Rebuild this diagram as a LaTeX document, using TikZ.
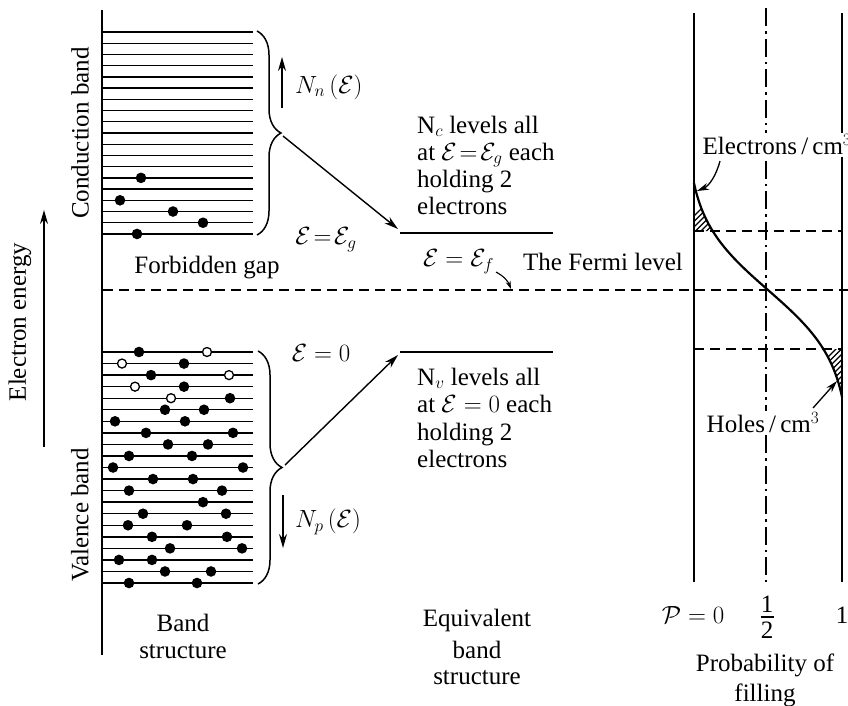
\documentclass[tikz,border=0pt]{standalone}
\usepackage{fontspec}
\setmainfont{Liberation Serif}
\usetikzlibrary{arrows.meta,decorations.pathreplacing}
\begin{document}
\begin{tikzpicture}[x=1pt,y=-1pt,
  txt/.style={font=\fontsize{25}{28}\selectfont, inner sep=0pt},
  ltxt/.style={txt, anchor=base west, text height=17pt, text depth=6pt},
  stxt/.style={font=\fontsize{25}{28}\selectfont, inner sep=1.5pt, fill=white},
  lvl/.style={line width=1.4pt},
  ax/.style={line width=1.7pt},
  hdot/.style={fill=white, draw=black, line width=1.3pt},
  arr/.style={line width=1.4pt, -{Stealth[length=14pt,width=8pt]}},
  dsh/.style={line width=1.4pt, dash pattern=on 10pt off 6pt},
  dashdot/.style={line width=1.5pt, dash pattern=on 18pt off 5pt on 2.5pt off 5pt},
  brc/.style={decorate, decoration={brace, amplitude=24pt}, line width=1.5pt},
  hatch/.style={line width=1.2pt},
]
\fill[white] (0,0) rectangle (848,705);
\useasboundingbox (0,0) rectangle (848,705);

% ---------- band structure ----------
\coordinate (axT) at (102,10);
\coordinate (axB) at (102,655);
\draw[ax] (axT) -- (axB);

\foreach \i in {0,...,18} {
  \draw[lvl] (102,{32+\i*11.22}) -- (253,{32+\i*11.22});
}
\foreach \x/\i in {141/13,120/15,173/16,203/17,137/18} {
  \fill (\x,{32+\i*11.22}) circle (5.3pt);
}
\foreach \i in {0,...,20} {
  \draw[lvl] (102,{352+\i*11.55}) -- (253,{352+\i*11.55});
}
\foreach \x/\i in {139/0,184/1,151/2,184/3,230/4,165/5,204/5,115/6,185/6,146/7,233/7,168/8,208/8,129/9,192/9,113/10,243/10,153/11,193/11,129/12,222/12,203/13,143/14,226/14,128/15,187/15,152/16,227/16,170/17,242/17,119/18,152/18,165/19,211/19,129/20,197/20} {
  \fill (\x,{352+\i*11.55}) circle (5.3pt);
}
\foreach \x/\i in {207/0,122/1,229/2,135/3,171/4} {
  \draw[hdot] (\x,{352+\i*11.55}) circle (4.5pt);
}

% braces
\coordinate (cbT) at (257,31);
\coordinate (cbB) at (257,235);
\draw[brc] (cbT) -- (cbB);
\coordinate (ctip) at (283,136);
\coordinate (vbT) at (258,351);
\coordinate (vbB) at (258,584);
\draw[brc] (vbT) -- (vbB);
\coordinate (vtip) at (285,465);

% density arrows
\coordinate (nnB) at (282,108);
\coordinate (nnT) at (282,57);
\draw[arr] (nnB) -- (nnT);
\node[txt, anchor=west] (nn) at (295,87) {$N_n\,(\mathcal{E})$};
\coordinate (npT) at (283,495);
\coordinate (npB) at (283,548);
\draw[arr] (npT) -- (npB);
\node[txt, anchor=west] (np) at (295,522) {$N_p\,(\mathcal{E})$};

% equivalent levels
\coordinate (ecL) at (400,233);
\coordinate (ecR) at (553,233);
\draw[lvl] (ecL) -- (ecR);
\coordinate (evL) at (400,352);
\coordinate (evR) at (553,352);
\draw[lvl] (evL) -- (evR);
\coordinate (ecA) at (398,229);
\coordinate (evA) at (398,355);
\draw[arr] (ctip) -- (ecA);
\draw[arr] (vtip) -- (evA);

\node[ltxt] (nc1) at (417,133) {N$_c$ levels all};
\node[ltxt] (nc2) at (417,160) {at $\mathcal{E}\!=\!\mathcal{E}_g$ each};
\node[ltxt] (nc3) at (417,187) {holding 2};
\node[ltxt] (nc4) at (417,214) {electrons};

\node[ltxt] (nv1) at (417,385) {N$_v$ levels all};
\node[ltxt] (nv2) at (417,412) {at $\mathcal{E} = 0$ each};
\node[ltxt] (nv3) at (417,440) {holding 2};
\node[ltxt] (nv4) at (417,467) {electrons};

\node[txt] (eg) at (326,240) {$\mathcal{E}\!=\!\mathcal{E}_g$};
\node[txt] (e0) at (321,353) {$\mathcal{E} = 0$};
\node[txt] (fg) at (207,268) {Forbidden gap};
\node[txt, anchor=west] (ef) at (423,262) {$\mathcal{E} = \mathcal{E}_f$};
\node[txt, anchor=west] (fl) at (523,262) {The Fermi level};
\coordinate (fa1) at (496,272);
\coordinate (fa2) at (511,289);
\draw[line width=1.1pt, -{Stealth[length=8pt,width=5pt]}] (fa1) to[bend left=20] (fa2);

% Fermi level
\coordinate (fdL) at (103,290);
\coordinate (fdR) at (848,290);
\draw[dsh] (fdL) -- (fdR);

% ---------- probability panel ----------
\coordinate (lT) at (694,13);
\coordinate (lB) at (694,582);
\coordinate (rT) at (842,13);
\coordinate (rB) at (842,582);
\coordinate (mT) at (766,8);
\coordinate (mB) at (766,582);
\draw[ax] (lT) -- (lB);
\draw[ax] (rT) -- (rB);
\draw[dashdot] (mT) -- (mB);
\coordinate (u1) at (694,231);
\coordinate (u2) at (842,231);
\coordinate (w1) at (694,349);
\coordinate (w2) at (842,349);
\draw[dsh] (u1) -- (u2);
\draw[dsh] (w1) -- (w2);

% hatching
\begin{scope}
  \clip plot[domain=183:231, samples=25, variable=\t] ({686+164/(1+exp(-(\t-290)/36))},{\t}) -- (694,231) -- (694,183) -- cycle;
  \foreach \k in {0,...,16} { \draw[hatch] ({660+\k*5.5},250) -- ({660+\k*5.5+80},170); }
\end{scope}
\begin{scope}
  \clip plot[domain=349:397, samples=25, variable=\t] ({686+164/(1+exp(-(\t-290)/36))},{\t}) -- (842,397) -- (842,349) -- cycle;
  \foreach \k in {0,...,16} { \draw[hatch] ({775+\k*5.5},410) -- ({775+\k*5.5+80},330); }
\end{scope}
\draw[line width=2.2pt] plot[domain=183:397, samples=80, variable=\t] ({686+164/(1+exp(-(\t-290)/36))},{\t});

\node[stxt, anchor=west] (elab) at (701,145) {Electrons\,/\,cm$^3$};
\node[stxt] (hlab) at (763,423) {Holes\,/\,cm$^3$};
\coordinate (ea1) at (720,161);
\coordinate (ea2) at (697,191);
\draw[line width=1.3pt, -{Stealth[length=12pt,width=7pt]}] (ea1) .. controls (716,176) and (709,186) .. (ea2);
\coordinate (ha1) at (813,408);
\coordinate (ha2) at (837,381);
\draw[line width=1.3pt, -{Stealth[length=12pt,width=7pt]}] (ha1) -- (ha2);

% ---------- axis labels ----------
\node[txt] (p0) at (693,615) {$\mathcal{P} = 0$};
\node[txt] (ph) at (767,617) {\shortstack{1\\[1pt]\rule{13pt}{1.2pt}\\[1pt]2}};
\node[txt] (p1) at (842,615) {1};
\node[txt] (pr1) at (765,665) {Probability of};
\node[txt] (pr2) at (765,695) {filling};

\node[txt] (b1) at (183,623) {Band};
\node[txt] (b2) at (183,652) {structure};
\node[txt] (q1) at (477,620) {Equivalent};
\node[txt] (q2) at (477,650) {band};
\node[txt] (q3) at (477,678) {structure};

\node[txt, rotate=90] (cb) at (80,133) {Conduction band};
\node[txt, rotate=90] (vb) at (80,515) {Valence band};
\node[txt, rotate=90] (ee) at (20,322) {Electron energy};
\coordinate (eaB) at (44,447);
\coordinate (eaT) at (44,210);
\draw[arr] (eaB) -- (eaT);
\end{tikzpicture}
\end{document}
